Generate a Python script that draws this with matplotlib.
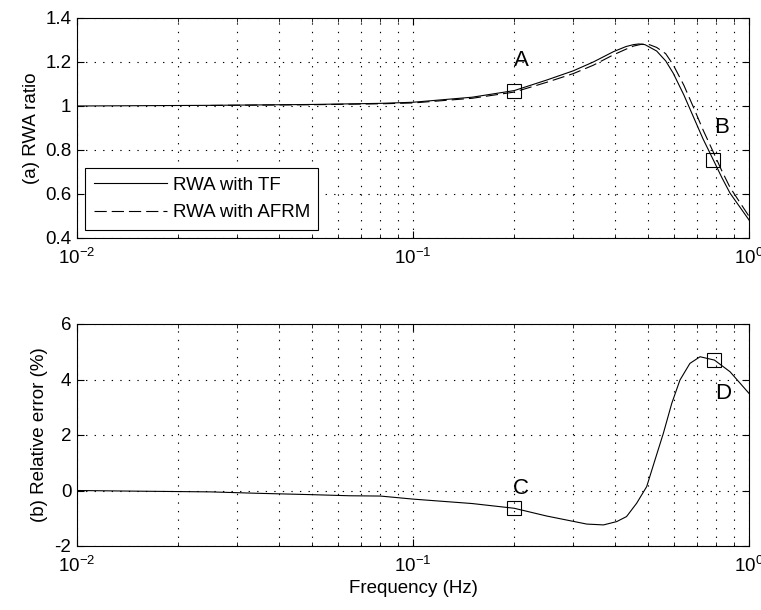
import numpy as np
import matplotlib
matplotlib.use("Agg")
import matplotlib.pyplot as plt
from matplotlib.ticker import LogLocator, NullFormatter

plt.rcParams['font.family'] = ['Liberation Sans', 'DejaVu Sans']
plt.rcParams['mathtext.default'] = 'regular'
plt.rcParams['axes.unicode_minus'] = False
plt.rcParams['font.size'] = 13.5

# RWA ratio, transfer-function approach
freq_tf = [0.01, 0.025, 0.05, 0.08, 0.1, 0.15, 0.2, 0.25, 0.3, 0.344, 0.395,
           0.43, 0.453, 0.47, 0.49, 0.531, 0.565, 0.595, 0.64, 0.683, 0.73, 0.783,
           0.83, 0.878, 0.94, 1.0]
rwa_tf = [1.0, 1.003, 1.007, 1.012, 1.017, 1.04, 1.07, 1.118, 1.16, 1.20, 1.247,
          1.27, 1.279, 1.282, 1.279, 1.25, 1.205, 1.149, 1.05, 0.951, 0.85, 0.755,
          0.675, 0.604, 0.54, 0.482]

# RWA ratio, AFRM approach
freq_afrm = [0.025, 0.05, 0.08, 0.1, 0.15, 0.2, 0.25, 0.3, 0.344, 0.395,
             0.43, 0.453, 0.48, 0.505, 0.531, 0.565, 0.595, 0.64, 0.683, 0.73,
             0.783, 0.83, 0.878, 0.94, 1.0]
rwa_afrm = [1.0025, 1.0058, 1.010, 1.0138, 1.0351, 1.0632, 1.1077, 1.1472,
            1.1854, 1.2327, 1.2579, 1.2723, 1.281, 1.279, 1.2663, 1.2378, 1.1869,
            1.0941, 0.9952, 0.891, 0.7906, 0.7054, 0.6299, 0.5611, 0.4989]

# relative error (%)
freq_err = [0.01, 0.014, 0.025, 0.0343, 0.05, 0.065, 0.08, 0.1, 0.15, 0.2, 0.25,
            0.329, 0.369, 0.404, 0.432, 0.463, 0.496, 0.525, 0.556, 0.589,
            0.623, 0.667, 0.715, 0.789, 0.878, 1.0]
err = [0.0, -0.02, -0.05, -0.1, -0.15, -0.19, -0.2, -0.31, -0.47, -0.64, -0.92,
       -1.21, -1.24, -1.12, -0.94, -0.46, 0.14, 1.1, 2.06, 3.14,
       3.98, 4.58, 4.82, 4.70, 4.28, 3.5]

# marked points
mark_ab_f = [0.2, 0.783]
mark_ab_v = [1.07, 0.755]
mark_cd_f = [0.2, 0.789]
mark_cd_v = [-0.64, 4.70]

fig = plt.figure(figsize=(7.61, 6.10), dpi=100)
ax1 = fig.add_axes([77/761, 1 - 238/610, 672/761, 220/610])
ax2 = fig.add_axes([77/761, 1 - 546/610, 672/761, 222/610])

dot = (0, (1.2, 6.5))


def style(ax):
    ax.set_xscale('log')
    ax.set_xlim(0.01, 1)
    ax.xaxis.set_major_locator(LogLocator(base=10, numticks=5))
    ax.xaxis.set_minor_locator(LogLocator(base=10, subs=np.arange(2, 10), numticks=20))
    ax.xaxis.set_minor_formatter(NullFormatter())
    ax.tick_params(which='both', direction='in', top=True, right=True,
                   labelsize=13.5, pad=4)
    ax.tick_params(axis='x', which='major', pad=7)
    ax.tick_params(which='major', length=5)
    ax.tick_params(which='minor', length=3)
    ax.grid(True, which='major', linestyle=dot, color='black', linewidth=0.8)
    ax.grid(True, which='minor', axis='x', linestyle=dot, color='black',
            linewidth=0.8)
    for s in ax.spines.values():
        s.set_linewidth(0.8)


style(ax1)
ax1.plot(freq_tf, rwa_tf, color='black', linewidth=0.8, label='RWA with TF')
ax1.plot(freq_afrm, rwa_afrm, color='black', linewidth=0.8,
         linestyle=(0, (11, 4.5)), label='RWA with AFRM')
ax1.plot(mark_ab_f, mark_ab_v, linestyle='none', marker='s', markersize=9.5,
         markerfacecolor='none', markeredgecolor='black', markeredgewidth=0.8)
ax1.text(0.21, 1.205, 'A', ha='center', va='center', fontsize=16)
ax1.text(0.83, 0.9, 'B', ha='center', va='center', fontsize=16)
ax1.set_ylim(0.4, 1.4)
ax1.set_yticks([0.4, 0.6, 0.8, 1.0, 1.2, 1.4])
ax1.set_yticklabels(['0.4', '0.6', '0.8', '1', '1.2', '1.4'])
ax1.set_ylabel('(a) RWA ratio', labelpad=4)
leg = ax1.legend(loc='lower left', handlelength=3.9, fancybox=False,
                 edgecolor='black', framealpha=1, borderaxespad=0.45,
                 fontsize=13.5, handletextpad=0.3, borderpad=0.45,
                 labelspacing=0.55)
leg.get_frame().set_linewidth(0.8)

style(ax2)
ax2.plot(freq_err, err, color='black', linewidth=0.8)
ax2.plot(mark_cd_f, mark_cd_v, linestyle='none', marker='s', markersize=9.5,
         markerfacecolor='none', markeredgecolor='black', markeredgewidth=0.8)
ax2.text(0.21, 0.09, 'C', ha='center', va='center', fontsize=16)
ax2.text(0.84, 3.5, 'D', ha='center', va='center', fontsize=16)
ax2.set_ylim(-2, 6)
ax2.set_yticks([-2, 0, 2, 4, 6])
ax2.set_ylabel('(b) Relative error (%)', labelpad=5)
ax2.set_xlabel('Frequency (Hz)', labelpad=3)

fig.savefig('out.png', dpi=100)
